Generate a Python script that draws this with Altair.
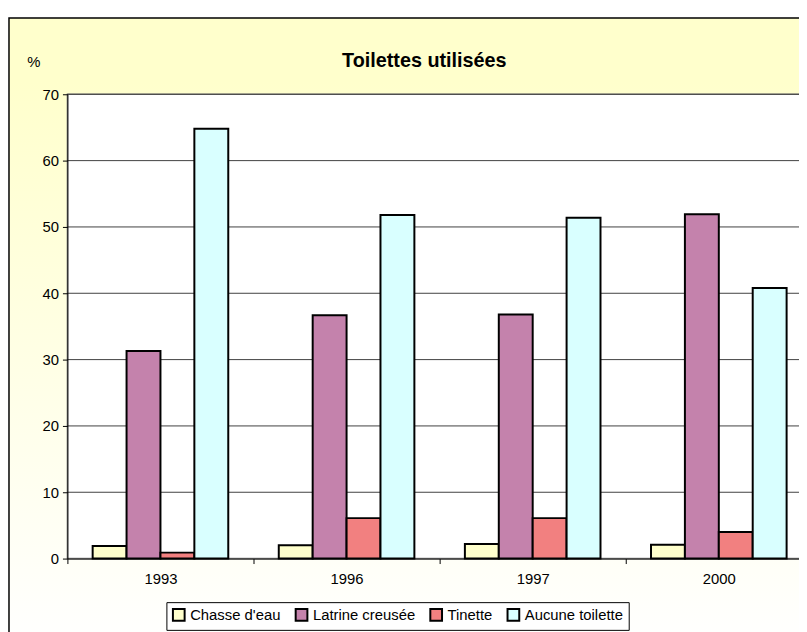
import altair as alt
import pandas as pd

years = ["1993", "1996", "1997", "2000"]
series = ["Chasse d'eau", "Latrine creusée", "Tinette", "Aucune toilette"]
chasse = [1.9, 2.0, 2.2, 2.1]
latrine = [31.3, 36.7, 36.8, 51.9]
tinette = [0.9, 6.1, 6.1, 4.0]
aucune = [64.8, 51.8, 51.4, 40.8]
colors = ["#FFFFCC", "#C482AC", "#F28080", "#D9FFFF"]
grid_vals = [10, 20, 30, 40, 50, 60, 70]
tick_vals = [0, 10, 20, 30, 40, 50, 60, 70]

rows = []
for s, vals in zip(series, [chasse, latrine, tinette, aucune]):
    for y, v in zip(years, vals):
        rows.append({"annee": y, "serie": s, "pct": v})
df = pd.DataFrame(rows)

FONT = "Liberation Sans"
W, H = 739, 469
RANGE_W = 752

bg = alt.Chart(pd.DataFrame({"k": [0]})).mark_rect(
    fill=alt.Gradient(
        gradient="linear",
        stops=[alt.GradientStop(color="#FFFFCC", offset=0),
               alt.GradientStop(color="#FFFFCC", offset=0.1),
               alt.GradientStop(color="#FFFFFF", offset=1)],
        x1=0, x2=0, y1=0, y2=1),
    stroke="black", strokeWidth=1.5
).encode(x=alt.value(-59), x2=alt.value(780), y=alt.value(-77), y2=alt.value(560))

plotbg = alt.Chart(pd.DataFrame({"k": [0]})).mark_rect(
    fill="white", stroke="#808080", strokeWidth=1.5
).encode(x=alt.value(0), x2=alt.value(RANGE_W), y=alt.value(0), y2=alt.value(H))

yscale = alt.Scale(domain=[0, 70], nice=False)
yaxis = alt.Axis(values=tick_vals, grid=False,
                 title="%", titleAngle=0, titleX=-41, titleY=-33,
                 titleAlign="left", titleBaseline="middle",
                 titleFont=FONT, titleFontSize=15, titleFontWeight="normal",
                 titleColor="black",
                 tickSize=5, tickColor="black", domainColor="black",
                 labelColor="black", labelFont=FONT, labelFontSize=15,
                 labelPadding=4, zindex=1)

grid = alt.Chart(pd.DataFrame({"g": grid_vals})).mark_rule(
    color="#404040", strokeWidth=1
).encode(y=alt.Y("g:Q", scale=yscale, axis=yaxis), x=alt.value(0), x2=alt.value(RANGE_W))

bars = alt.Chart(df).mark_bar(stroke="black", strokeWidth=2).encode(
    x=alt.X("annee:N", sort=years,
            scale=alt.Scale(range=[0, RANGE_W], paddingInner=0, paddingOuter=0),
            axis=alt.Axis(title=None, labelAngle=0, tickBand="extent", tickSize=5,
                          tickColor="black", domainColor="black", labelColor="black",
                          labelFont=FONT, labelFontSize=15, labelPadding=8,
                          zindex=1, grid=False)),
    xOffset=alt.XOffset("serie:N", sort=series,
                        scale=alt.Scale(paddingOuter=0.745, paddingInner=0)),
    y=alt.Y("pct:Q", scale=yscale, axis=yaxis),
    color=alt.Color("serie:N", sort=series,
                    scale=alt.Scale(domain=series, range=colors),
                    legend=alt.Legend(title=None, orient="none", legendX=100, legendY=513,
                                      direction="horizontal", columns=4,
                                      symbolType="square", symbolSize=140,
                                      symbolStrokeColor="black", symbolStrokeWidth=2,
                                      labelFont=FONT, labelFontSize=15, labelColor="black",
                                      labelOffset=4, columnPadding=10,
                                      padding=5, strokeColor="black", fillColor="white",
                                      zindex=1)),
)

chart = alt.layer(bg, plotbg, grid, bars).properties(
    width=W, height=H,
    title=alt.TitleParams("Toilettes utilisées", font=FONT, fontSize=20, fontWeight="bold",
                          color="black", anchor="middle", frame="group", dx=-9,
                          baseline="middle", offset=0, dy=64, zindex=1),
    autosize=alt.AutoSizeParams(type="none"),
    padding={"left": 60, "top": 84, "right": 0, "bottom": 71},
).configure_view(stroke=None, fill=None).configure(background="white")

chart.save("out.html", embed_options={"renderer": "svg", "actions": False})
